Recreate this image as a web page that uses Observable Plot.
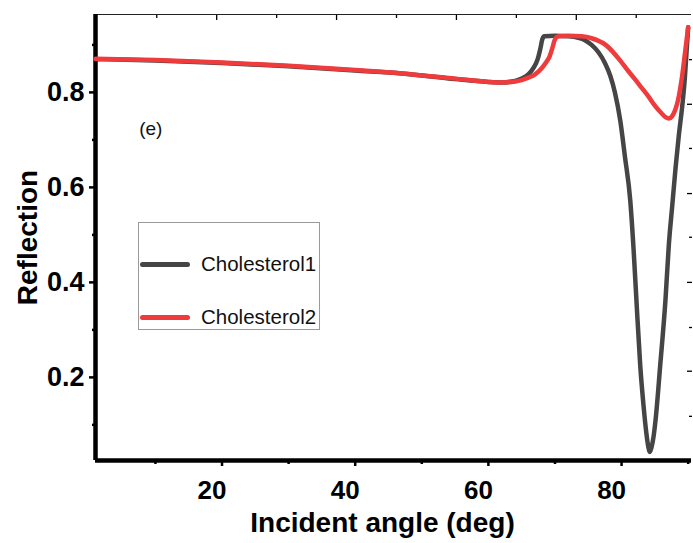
<!DOCTYPE html>
<html>
<head>
<meta charset="utf-8">
<script src="https://cdn.jsdelivr.net/npm/d3@7"></script>
<script src="https://cdn.jsdelivr.net/npm/@observablehq/plot@0.6"></script>
<style>
  body { margin: 0; background: #fff; }
  #wrap { position: relative; width: 693px; height: 543px; overflow: hidden; }
  .legend { position: absolute; left: 138px; top: 222px; width: 182px; height: 108px;
    border: 1px solid #9a9a9a; box-sizing: border-box;
    font-family: "Liberation Sans", Arial, sans-serif; font-size: 20.5px; color: #111; }
  .legend .row { position: absolute; left: 1px; height: 24px; display: flex; align-items: center; }
  .legend .sw { width: 50px; height: 5px; border-radius: 3px; margin-right: 11px; }
</style>
</head>
<body>
<div id="wrap"></div>
<script>
// ---- data ----
const seriesNames = ["Cholesterol1", "Cholesterol2"];
const seriesColors = ["#454545", "#ef3b3b"];

const angle1 = [1, 10, 20, 30, 40, 47, 55, 60, 62, 64, 65, 66, 66.8, 67.4, 67.8, 68.1, 68.4, 70, 72, 73.5, 74.5, 75.5, 76.5, 77.5, 78.3, 79, 79.8, 80.5, 81.3, 81.8, 82.2, 82.8, 83.3, 83.7, 84.0, 84.25, 84.5, 84.8, 85.1, 85.8, 86.6, 87.1, 87.6, 88.1, 88.6, 89.1, 89.5, 89.8, 90];
const refl1  = [0.870, 0.867, 0.862, 0.855, 0.846, 0.840, 0.828, 0.822, 0.821, 0.824, 0.829, 0.838, 0.852, 0.870, 0.892, 0.912, 0.918, 0.919, 0.918, 0.915, 0.910, 0.900, 0.885, 0.862, 0.835, 0.800, 0.741, 0.665, 0.573, 0.470, 0.370, 0.225, 0.140, 0.085, 0.055, 0.043, 0.053, 0.075, 0.110, 0.225, 0.365, 0.480, 0.560, 0.640, 0.710, 0.770, 0.830, 0.895, 0.937];

const angle2 = [1, 10, 20, 30, 40, 47, 55, 60, 62, 64, 65, 66, 67, 68, 68.7, 69.2, 69.6, 69.9, 70.2, 70.6, 72, 74, 75.5, 77.7, 79.8, 81, 82, 83, 84, 85, 86, 86.6, 87.1, 87.6, 88.1, 88.5, 88.8, 89.1, 89.5, 90];
const refl2  = [0.871, 0.868, 0.863, 0.856, 0.847, 0.840, 0.829, 0.822, 0.821, 0.823, 0.826, 0.831, 0.838, 0.851, 0.864, 0.876, 0.893, 0.908, 0.916, 0.918, 0.919, 0.918, 0.914, 0.899, 0.867, 0.845, 0.828, 0.810, 0.792, 0.772, 0.756, 0.748, 0.745, 0.750, 0.765, 0.785, 0.808, 0.835, 0.880, 0.937];

const xDomain = [1, 90.5];
const yDomain = [0.025, 0.964];
const xMajor = [20, 40, 60, 80];
const xMinor = [10, 30, 50, 70, 90];
const yMajor = [0.2, 0.4, 0.6, 0.8];
const yMinor = [0.1, 0.3, 0.5, 0.7, 0.9];
const topMajor = [19.2, 37.2, 55.2, 73.2];
const topMinor = [10.2, 28.2, 46.2, 64.2, 82.2];
const rightMajor = [0.775, 0.587, 0.4, 0.213];
const rightMinor = [0.869, 0.682, 0.495, 0.305, 0.118];

const xTitle = "Incident angle (deg)";
const yTitle = "Reflection";
const panelLabel = "(e)";
const panelPos = {x: 9.3, y: 0.724};

const font = "'Liberation Sans', Arial, Helvetica, sans-serif";

const rows1 = angle1.map((a, i) => ({angle: a, refl: refl1[i]}));
const rows2 = angle2.map((a, i) => ({angle: a, refl: refl2[i]}));
const blank = () => "";

const chart = Plot.plot({
  width: 693, height: 543,
  marginLeft: 95, marginRight: 2, marginTop: 14, marginBottom: 83,
  x: {domain: xDomain},
  y: {domain: yDomain},
  style: {fontFamily: font, color: "#000", background: "#fff", overflow: "visible"},
  marks: [
    // bottom axis: labels (slightly left of their ticks, as in the reference), then ticks
    Plot.axisX({ticks: xMajor, tickSize: 0, tickPadding: 20, fontSize: 26, fontWeight: "bold", label: null, dx: -10, tickFormat: d => String(d)}),
    Plot.axisX({ticks: xMajor, tickSize: 6, strokeWidth: 2.5, label: null, tickFormat: blank}),
    Plot.axisX({ticks: xMinor, tickSize: 4, strokeWidth: 2.5, label: null, tickFormat: blank}),
    // left axis
    Plot.axisY({ticks: yMajor, tickSize: 6, tickPadding: 5, strokeWidth: 2.5, fontSize: 27, fontWeight: "bold", label: null, tickFormat: d => d.toFixed(1)}),
    Plot.axisY({ticks: yMinor, tickSize: 3, strokeWidth: 2.5, label: null, tickFormat: blank}),
    // top ticks (inward)
    Plot.axisX({anchor: "top", ticks: topMajor, tickSize: -5, strokeWidth: 1.3, label: null, tickFormat: blank}),
    Plot.axisX({anchor: "top", ticks: topMinor, tickSize: -3, strokeWidth: 1.3, label: null, tickFormat: blank}),
    // right ticks (inward)
    Plot.axisY({anchor: "right", ticks: rightMajor, tickSize: -5, strokeWidth: 1.3, label: null, tickFormat: blank}),
    Plot.axisY({anchor: "right", ticks: rightMinor, tickSize: -3, strokeWidth: 1.3, label: null, tickFormat: blank}),
    // frame
    Plot.ruleY([yDomain[1]], {stroke: "#222", strokeWidth: 1.2}),
    Plot.ruleX([xDomain[0]], {stroke: "#000", strokeWidth: 4.5}),
    Plot.ruleY([yDomain[0]], {stroke: "#000", strokeWidth: 4.5}),
    // curves
    Plot.line(rows1, {x: "angle", y: "refl", stroke: seriesColors[0], strokeWidth: 4.5, curve: "monotone-x"}),
    Plot.line(rows2, {x: "angle", y: "refl", stroke: seriesColors[1], strokeWidth: 4.5, curve: "monotone-x"}),
    // texts
    Plot.text([panelLabel], {x: () => panelPos.x, y: () => panelPos.y, text: d => d, fontSize: 19, fill: "#111"}),
    Plot.text([yTitle], {frameAnchor: "left", dx: -67, rotate: -90, textAnchor: "middle", lineAnchor: "middle", text: d => d, fontSize: 28, fontWeight: "bold"}),
    Plot.text([xTitle], {frameAnchor: "bottom", dx: -11, dy: 63, textAnchor: "middle", lineAnchor: "middle", text: d => d, fontSize: 28, fontWeight: "bold"})
  ]
});

const wrap = document.getElementById("wrap");
wrap.appendChild(chart);

// legend
const legend = document.createElement("div");
legend.className = "legend";
const rowTops = [29, 82];
seriesNames.forEach((name, i) => {
  const row = document.createElement("div");
  row.className = "row";
  row.style.top = rowTops[i] + "px";
  const sw = document.createElement("div");
  sw.className = "sw";
  sw.style.background = seriesColors[i];
  const label = document.createElement("span");
  label.textContent = name;
  row.appendChild(sw);
  row.appendChild(label);
  legend.appendChild(row);
});
wrap.appendChild(legend);
</script>
</body>
</html>
